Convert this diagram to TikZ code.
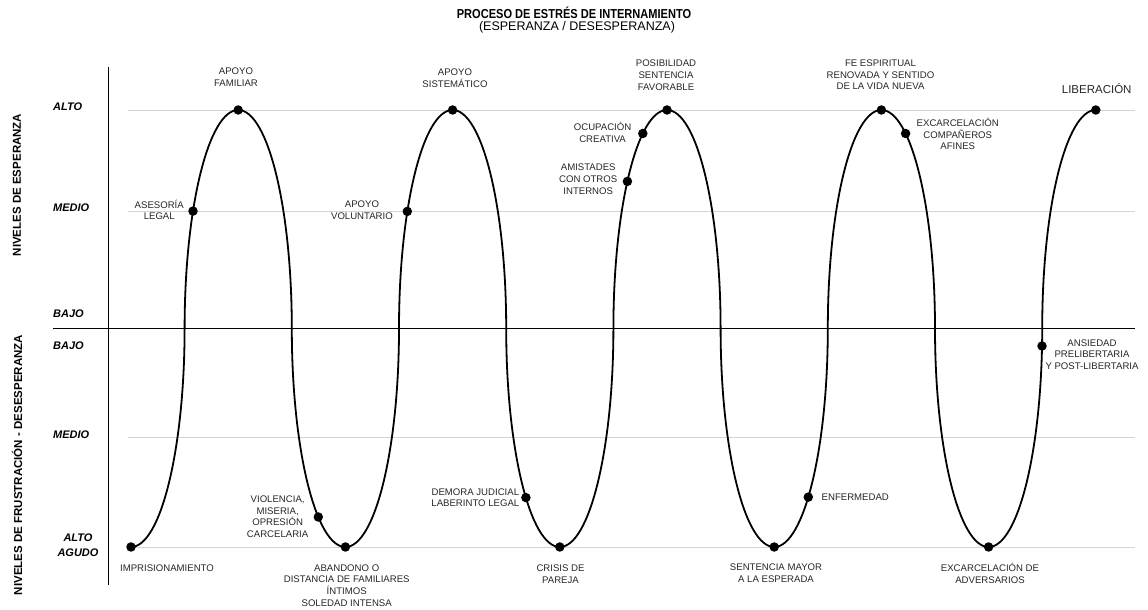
\documentclass[tikz,border=0pt]{standalone}
\usepackage{fontspec}
\setmainfont{Liberation Sans}
\newfontfamily\narrowfont{Liberation Sans}[FakeStretch=0.85]
\usetikzlibrary{positioning}
\tikzstyle{dot}=[circle, fill=black, inner sep=0pt, minimum size=9.5pt]
\tikzstyle{lbl}=[align=center, inner sep=0pt, text=black!85, font=\fontsize{9.6}{11.7}\selectfont]
\tikzstyle{lvl}=[anchor=west, inner sep=0pt, font=\fontsize{11}{15}\selectfont\bfseries\itshape]
\tikzstyle{side}=[rotate=90, inner sep=0pt, font=\fontsize{11.5}{13}\selectfont\bfseries]
\tikzstyle{axis}=[line width=1.4pt]
\tikzstyle{guide}=[line width=0.6pt, black!17]
\tikzstyle{curve}=[line width=1.8pt, x radius=53.6, y radius=218.5]

\begin{document}
\begin{tikzpicture}[x=1pt, y=1pt]
    \useasboundingbox (0,0) rectangle (1148,610);
    % axes
    \coordinate (top) at (108.5,543);
    \coordinate (bot) at (108.5,25);
    \coordinate (left) at (53,281.5);
    \coordinate (right) at (1135,281.5);
    \draw[guide] (128,500) -- (1135,500);
    \draw[guide] (128,398.5) -- (1135,398.5);
    \draw[guide] (128,172.5) -- (1135,172.5);
    \draw[guide] (128,63) -- (1135,63);
    \draw[axis] (top) -- (bot);
    \draw[axis] (left) -- (right);
    % levels
    \node[lvl] (alto) at (53,503) {ALTO};
    \node[lvl] (medio) at (53,402) {MEDIO};
    \node[lvl] (bajo) at (53,296.5) {BAJO};
    \node[lvl] (bajo2) at (53,264) {BAJO};
    \node[lvl] (medio2) at (53,175) {MEDIO};
    \node[lvl, anchor=center, align=center] (agudo) at (78,65) {ALTO\\AGUDO};
    \node[side] (esp) at (17,425) {NIVELES DE ESPERANZA};
    \node[side] (frus) at (17,145) {NIVELES DE FRUSTRACIÓN - DESESPERANZA};
    % title
    \node[font=\narrowfont\fontsize{13}{15}\selectfont\bfseries] (title) at (574,597) {PROCESO DE ESTRÉS DE INTERNAMIENTO};
    \node[font=\fontsize{12.5}{15}\selectfont] (sub) at (577,583) {(ESPERANZA / DESESPERANZA)};
    % the wave
    \coordinate (t0) at (131,63);
    \coordinate (p1) at (238.2,500);
    \coordinate (t1) at (345.4,63);
    \coordinate (p2) at (452.6,500);
    \coordinate (t2) at (559.8,63);
    \coordinate (p3) at (667,500);
    \coordinate (t3) at (774.2,63);
    \coordinate (p4) at (881.4,500);
    \coordinate (t4) at (988.6,63);
    \coordinate (p5) at (1095.8,500);
    \draw[curve] (t0) arc[start angle=270, end angle=360]
        \foreach \i in {1,...,4} {arc[start angle=180, end angle=0] arc[start angle=180, end angle=360]}
        arc[start angle=180, end angle=90];
    % events
    \coordinate (ase) at (193.0,398.9);
    \coordinate (vio) at (318.3,93.0);
    \coordinate (vol) at (407.3,398.6);
    \coordinate (dem) at (525.9,112.4);
    \coordinate (ami) at (627.4,428.6);
    \coordinate (ocu) at (642.8,476.5);
    \coordinate (enf) at (808.3,112.9);
    \coordinate (com) at (905.6,476.5);
    \coordinate (ans) at (1042.0,264.0);
    \foreach \c in {t0,p1,t1,p2,t2,p3,t3,p4,t4,p5,ase,vio,vol,dem,ami,ocu,enf,com,ans}
        \node[dot] at (\c) {};
    % labels
    \node[lbl] (l-imp) at (167,42) {IMPRISIONAMIENTO};
    \node[lbl, anchor=east] (l-ase) at (184,400) {ASESORÍA\\LEGAL};
    \node[lbl] (l-fam) at (236,532.5) {APOYO\\FAMILIAR};
    \node[lbl, anchor=east] (l-vio) at (308.5,93.3) {VIOLENCIA,\\MISERIA,\\OPRESIÓN\\CARCELARIA};
    \node[lbl] (l-aba) at (346.7,24.5) {ABANDONO O\\DISTANCIA DE FAMILIARES\\ÍNTIMOS\\SOLEDAD INTENSA};
    \node[lbl, anchor=east] (l-vol) at (393,400) {APOYO\\VOLUNTARIO};
    \node[lbl] (l-sis) at (455,532) {APOYO\\SISTEMÁTICO};
    \node[lbl, anchor=east] (l-dem) at (519.5,112.2) {DEMORA JUDICIAL\\LABERINTO LEGAL};
    \node[lbl] (l-cri) at (560.5,36) {CRISIS DE\\PAREJA};
    \node[lbl, anchor=east] (l-ami) at (617.5,430.8) {AMISTADES\\CON OTROS\\INTERNOS};
    \node[lbl, anchor=east] (l-ocu) at (631.5,477.3) {OCUPACIÓN\\CREATIVA};
    \node[lbl] (l-pos) at (666,534.8) {POSIBILIDAD\\SENTENCIA\\FAVORABLE};
    \node[lbl, anchor=west] (l-enf) at (821.5,113.3) {ENFERMEDAD};
    \node[lbl] (l-sen) at (776,36.5) {SENTENCIA MAYOR\\A LA ESPERADA};
    \node[lbl] (l-fe) at (880.5,535) {FE ESPIRITUAL\\RENOVADA Y SENTIDO\\DE LA VIDA NUEVA};
    \node[lbl, anchor=west] (l-com) at (916.5,476.1) {EXCARCELACIÓN\\COMPAÑEROS\\AFINES};
    \node[lbl] (l-adv) at (990,36.5) {EXCARCELACIÓN DE\\ADVERSARIOS};
    \node[lbl, font=\fontsize{11.5}{13}\selectfont] (l-lib) at (1096.7,521.7) {LIBERACIÓN};
    \node[lbl] (l-ans) at (1092,255.4) {ANSIEDAD\\PRELIBERTARIA\\Y POST-LIBERTARIA};
\end{tikzpicture}
\end{document}
